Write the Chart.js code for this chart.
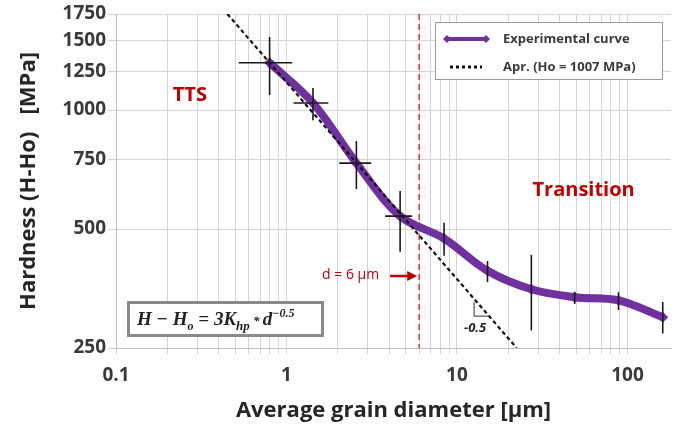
<!DOCTYPE html>
<html lang="en">
<head>
<meta charset="UTF-8">
<title>Hardness vs grain diameter</title>
<script src="https://cdn.jsdelivr.net/npm/chart.js@4"></script>
<style>
    html, body { margin: 0; padding: 0; background: #fff; }
</style>
</head>
<body>
<canvas id="hpChart" width="686" height="432"></canvas>
<script>
    // average grain diameter [um] and hardness (H-Ho) [MPa]
    const diameter = [0.796, 1.43, 2.57, 4.64, 8.4, 15.1, 27.3, 49.0, 88.6, 161];
    const hardness = [1317, 1042, 734, 539, 473, 392, 352, 336, 330, 299];
    // error bars (null = no bar)
    const hardLow  = [1091, 943, 631, 438, 428, 367, 277, 323, 312, 272];
    const hardHigh = [1530, 1137, 835, 624, 519, 415, 430, 347, 346, 327];
    const diamLow  = [0.524, 1.10, 2.04, 3.79, null, null, null, null, null, null];
    const diamHigh = [1.08, 1.76, 3.14, 5.46, null, null, null, null, null, null];

    // Hall-Petch approximation (slope -0.5), end points
    const aprDiameter = [0.45, 22.4];
    const aprHardness = [1750, 250];
    const criticalD = 6;

    // slope triangle corners
    const triDiameter = [12.6, 15.2];
    const triHardness = [327, 301];

    const xGrid = [0.1, 0.2, 0.3, 0.4, 0.5, 0.6, 0.7, 0.8, 0.9,
                   1, 2, 3, 4, 5, 6, 7, 8, 9,
                   10, 20, 30, 40, 50, 60, 70, 80, 90,
                   100];
    const xTickLabels = ['0.1', '1', '10', '100'];
    const yTicks = [250, 500, 750, 1000, 1250, 1500, 1750];

    const PURPLE = '#7030a0';
    const RED = '#c00000';
    const GRID = '#d4d4d4';
    const TEXT = '#3a3a3a';
    const FONT = '"Open Sans", sans-serif';

    const expPoints = diameter.map((d, i) => ({ x: d, y: hardness[i] }));
    const aprPoints = aprDiameter.map((d, i) => ({ x: d, y: aprHardness[i] }));

    function drawDiamond(ctx, x, y, r) {
        ctx.beginPath();
        ctx.moveTo(x, y - r);
        ctx.lineTo(x + r, y);
        ctx.lineTo(x, y + r);
        ctx.lineTo(x - r, y);
        ctx.closePath();
        ctx.fill();
    }

    const overlay = {
        id: 'overlay',
        beforeDatasetsDraw(chart) {
            const { ctx, chartArea: a, scales: { x } } = chart;
            const xc = x.getPixelForValue(criticalD);
            ctx.save();
            ctx.strokeStyle = '#e2302f';
            ctx.lineWidth = 1.5;
            ctx.setLineDash([6, 4]);
            ctx.beginPath();
            ctx.moveTo(xc, a.top);
            ctx.lineTo(xc, a.bottom);
            ctx.stroke();
            ctx.restore();
        },
        afterDatasetsDraw(chart) {
            const { ctx, chartArea: a, scales: { x, y } } = chart;
            ctx.save();

            // error bars
            ctx.strokeStyle = '#1a1a1a';
            ctx.lineWidth = 1.6;
            diameter.forEach((d, i) => {
                const px = x.getPixelForValue(d);
                const py = y.getPixelForValue(hardness[i]);
                ctx.beginPath();
                ctx.moveTo(px, y.getPixelForValue(hardHigh[i]));
                ctx.lineTo(px, y.getPixelForValue(hardLow[i]));
                if (diamLow[i] !== null) {
                    ctx.moveTo(x.getPixelForValue(diamLow[i]), py);
                    ctx.lineTo(x.getPixelForValue(diamHigh[i]), py);
                }
                ctx.stroke();
            });

            // slope triangle
            const tx0 = x.getPixelForValue(triDiameter[0]);
            const tx1 = x.getPixelForValue(triDiameter[1]);
            const ty0 = y.getPixelForValue(triHardness[0]);
            const ty1 = y.getPixelForValue(triHardness[1]);
            ctx.strokeStyle = '#333';
            ctx.lineWidth = 1;
            ctx.beginPath();
            ctx.moveTo(tx0, ty0);
            ctx.lineTo(tx0, ty1);
            ctx.lineTo(tx1, ty1);
            ctx.stroke();
            ctx.fillStyle = '#222';
            ctx.font = 'italic bold 13px ' + FONT;
            ctx.textAlign = 'center';
            ctx.textBaseline = 'middle';
            ctx.fillText('-0.5', tx0 + 1, ty1 + 12);

            // region labels
            ctx.fillStyle = RED;
            ctx.font = 'bold 20px ' + FONT;
            ctx.fillText('TTS', x.getPixelForValue(0.271), y.getPixelForValue(1091));
            ctx.fillText('Transition', x.getPixelForValue(55.3), y.getPixelForValue(627));

            // d = 6 um arrow
            const xc = x.getPixelForValue(criticalD);
            const ay = a.top + 261;
            ctx.font = '14px ' + FONT;
            ctx.textAlign = 'right';
            ctx.fillText('d = 6 \u00b5m', xc - 40, ay);
            ctx.strokeStyle = RED;
            ctx.lineWidth = 2.5;
            ctx.beginPath();
            ctx.moveTo(xc - 29, ay + 1);
            ctx.lineTo(xc - 10, ay + 1);
            ctx.stroke();
            ctx.beginPath();
            ctx.moveTo(xc - 2, ay + 1);
            ctx.lineTo(xc - 12, ay - 4);
            ctx.lineTo(xc - 12, ay + 6);
            ctx.closePath();
            ctx.fill();

            // legend box
            const lx = 435, ly = 22, lw = 227, lh = 57;
            ctx.fillStyle = '#fff';
            ctx.fillRect(lx, ly, lw, lh);
            ctx.strokeStyle = '#9a9a9a';
            ctx.lineWidth = 1;
            ctx.strokeRect(lx + 0.5, ly + 0.5, lw, lh);
            ctx.strokeStyle = PURPLE;
            ctx.fillStyle = PURPLE;
            ctx.lineWidth = 4;
            ctx.beginPath();
            ctx.moveTo(lx + 12, ly + 17);
            ctx.lineTo(lx + 51, ly + 17);
            ctx.stroke();
            drawDiamond(ctx, lx + 12, ly + 17, 4);
            drawDiamond(ctx, lx + 51, ly + 17, 4);
            ctx.strokeStyle = '#111';
            ctx.lineWidth = 3;
            ctx.setLineDash([3, 3]);
            ctx.beginPath();
            ctx.moveTo(lx + 15, ly + 45);
            ctx.lineTo(lx + 47, ly + 45);
            ctx.stroke();
            ctx.setLineDash([]);
            ctx.fillStyle = TEXT;
            ctx.font = 'bold 13px ' + FONT;
            ctx.textAlign = 'left';
            ctx.fillText('Experimental curve', lx + 68, ly + 17);
            ctx.fillText('Apr. (Ho = 1007 MPa)', lx + 68, ly + 45);

            // formula box
            const fx = 128, fy = 302, fw = 194, fh = 33;
            ctx.fillStyle = '#fff';
            ctx.fillRect(fx, fy, fw, fh);
            ctx.strokeStyle = '#8a8a8a';
            ctx.strokeRect(fx + 0.5, fy + 0.5, fw, fh);
            const parts = [
                ['H \u2212 H', 0, 19],
                ['o', 5, 12],
                [' = 3K', 0, 19],
                ['hp', 5, 13],
                [' * ', 0, 13],
                ['d', 0, 19],
                ['\u22120.5', -8, 12]
            ];
            let cx = fx + 9;
            const base = fy + 23;
            ctx.fillStyle = '#222';
            ctx.textBaseline = 'alphabetic';
            parts.forEach(([txt, dy, size]) => {
                ctx.font = 'italic bold ' + size + 'px "Liberation Serif", serif';
                ctx.fillText(txt, cx, base + dy);
                cx += ctx.measureText(txt).width;
            });

            ctx.restore();
        }
    };

    new Chart(document.getElementById('hpChart'), {
        type: 'line',
        data: {
            datasets: [
                {
                    label: 'Apr. (Ho = 1007 MPa)',
                    data: aprPoints,
                    borderColor: '#111',
                    borderWidth: 2.2,
                    borderDash: [4, 3],
                    pointRadius: 0,
                    tension: 0
                },
                {
                    label: 'Experimental curve',
                    data: expPoints,
                    borderColor: PURPLE,
                    backgroundColor: PURPLE,
                    borderWidth: 8,
                    pointStyle: 'rectRot',
                    pointRadius: 5.5,
                    pointBorderWidth: 0,
                    tension: 0.35
                }
            ]
        },
        options: {
            responsive: false,
            animation: false,
            layout: { padding: { top: 14, right: 15, left: 0, bottom: 0 } },
            plugins: {
                legend: { display: false },
                tooltip: { enabled: false }
            },
            scales: {
                x: {
                    type: 'logarithmic',
                    min: 0.1,
                    max: 180,
                    afterBuildTicks: s => { s.ticks = xGrid.map(v => ({ value: v })); },
                    afterFit: s => { s.height = 84; },
                    grid: { color: GRID, tickLength: 6, lineWidth: 1 },
                    border: { color: '#bfbfbf' },
                    ticks: {
                        autoSkip: false,
                        maxRotation: 0,
                        padding: 10,
                        color: TEXT,
                        font: { family: FONT, size: 19, weight: 'bold' },
                        callback: v => xTickLabels.includes(String(v)) ? String(v) : ''
                    },
                    title: {
                        display: true,
                        text: 'Average grain diameter [\u00b5m]',
                        color: '#262626',
                        font: { family: FONT, size: 22, weight: 'bold' },
                        padding: { top: 0, bottom: 8 }
                    }
                },
                y: {
                    type: 'logarithmic',
                    min: 250,
                    max: 1750,
                    afterBuildTicks: s => { s.ticks = yTicks.map(v => ({ value: v })); },
                    afterFit: s => { s.width = 116; },
                    grid: { color: GRID, tickLength: 8, lineWidth: 1 },
                    border: { color: '#bfbfbf' },
                    ticks: {
                        padding: 2,
                        color: TEXT,
                        font: { family: FONT, size: 19, weight: 'bold' },
                        callback: v => String(v)
                    },
                    title: {
                        display: true,
                        text: 'Hardness (H-Ho)   [MPa]',
                        color: '#262626',
                        font: { family: FONT, size: 22, weight: 'bold' },
                        padding: { top: 16, bottom: 0 }
                    }
                }
            }
        },
        plugins: [overlay]
    });
</script>
</body>
</html>
